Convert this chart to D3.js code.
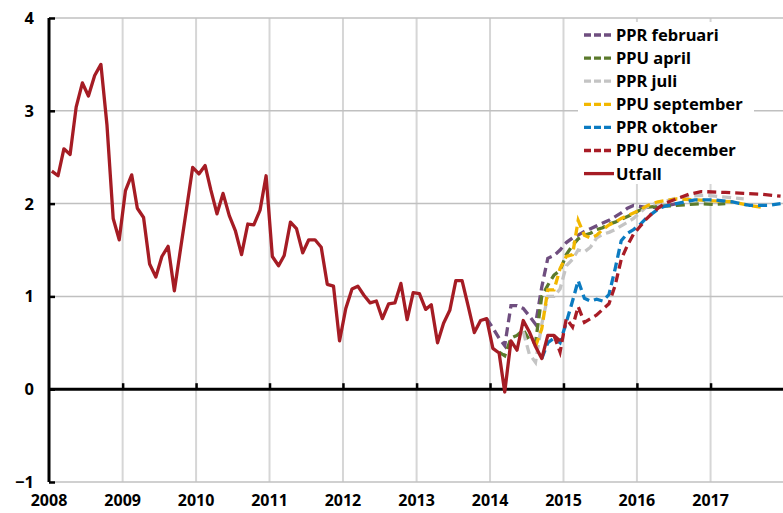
<!DOCTYPE html>
<html>
<head>
<meta charset="utf-8">
<script src="https://cdn.jsdelivr.net/npm/d3@7"></script>
<style>
  body { margin: 0; background: #fff; }
  text { font-family: "Noto Sans", sans-serif; font-weight: bold; fill: #000; }
</style>
</head>
<body>
<div class="contenedor_grafico"></div>
<script>
// months are counted from Jan 2008 (0 = Jan 2008)
const yTicks = [-1, 0, 1, 2, 3, 4];
const yearTicks = [2008, 2009, 2010, 2011, 2012, 2013, 2014, 2015, 2016, 2017];

const utfallValues = [
  2.35, 2.30, 2.59, 2.53, 3.04, 3.30, 3.16, 3.38, 3.50, 2.85, 1.84, 1.61,
  2.14, 2.31, 1.95, 1.85, 1.35, 1.21, 1.43, 1.54, 1.06, 1.50, 1.95, 2.39,
  2.32, 2.41, 2.15, 1.89, 2.11, 1.87, 1.71, 1.45, 1.78, 1.77, 1.93, 2.30,
  1.43, 1.33, 1.44, 1.80, 1.73, 1.47, 1.61, 1.61, 1.53, 1.13, 1.11, 0.52,
  0.87, 1.08, 1.11, 1.01, 0.93, 0.95, 0.76, 0.92, 0.93, 1.14, 0.75, 1.04,
  1.03, 0.86, 0.91, 0.50, 0.71, 0.85, 1.17, 1.17, 0.89, 0.61, 0.74, 0.76,
  0.44, 0.39, -0.03, 0.52, 0.42, 0.74, 0.62, 0.46, 0.33, 0.58, 0.58, 0.52
];

const pprFebruari = [
  [71, 0.76], [72, 0.66], [73, 0.55], [74, 0.47], [75, 0.90], [76, 0.90],
  [77, 0.87], [78, 0.79], [79, 0.70], [80, 1.10], [81, 1.41], [82, 1.44],
  [83, 1.50], [84, 1.58], [85, 1.63], [86, 1.66], [87, 1.70], [88, 1.73],
  [89, 1.76], [90, 1.79], [91, 1.82], [92, 1.86], [93, 1.90], [94, 1.95],
  [95, 1.98], [96, 1.97], [97, 1.96], [99, 1.96], [102, 2.00]
];
const ppuApril = [
  [73, 0.40], [74, 0.36], [75, 0.55], [76, 0.58], [77, 0.64], [78, 0.53],
  [79, 0.50], [80, 1.00], [81, 1.12], [82, 1.23], [83, 1.28], [84, 1.45],
  [85, 1.55], [86, 1.62], [87, 1.66], [88, 1.68], [89, 1.72], [90, 1.74],
  [91, 1.78], [92, 1.80], [93, 1.83], [94, 1.86], [95, 1.89], [96, 1.93],
  [97, 1.96], [99, 1.97], [102, 1.98], [106, 2.00], [108, 1.99], [110, 2.00]
];
const pprJuli = [
  [77, 0.62], [78, 0.38], [79, 0.29], [80, 0.70], [81, 1.00], [82, 1.00],
  [83, 1.08], [84, 1.33], [85, 1.40], [86, 1.50], [87, 1.48], [88, 1.53],
  [89, 1.63], [90, 1.67], [91, 1.69], [92, 1.72], [93, 1.76], [94, 1.80],
  [95, 1.84], [96, 1.90], [97, 1.96], [98, 1.99], [100, 2.02], [102, 2.06],
  [104, 2.08], [107, 2.09], [110, 2.07], [113, 2.05]
];
const ppuSeptember = [
  [79, 0.46], [80, 0.65], [81, 1.07], [82, 1.07], [83, 1.30], [84, 1.43],
  [85, 1.45], [86, 1.82], [87, 1.66], [88, 1.63], [89, 1.66], [90, 1.72],
  [91, 1.77], [92, 1.80], [93, 1.84], [94, 1.87], [95, 1.90], [96, 1.93],
  [97, 1.97], [98, 2.00], [99, 2.02], [102, 2.05], [105, 2.04], [108, 2.03],
  [111, 2.02], [114, 1.98], [116, 1.96]
];
const pprOktober = [
  [80, 0.33], [81, 0.50], [82, 0.55], [83, 0.50], [84, 0.72], [85, 0.95],
  [86, 1.17], [87, 0.98], [88, 0.95], [89, 0.97], [90, 0.95], [91, 1.02],
  [92, 1.30], [93, 1.60], [94, 1.68], [95, 1.72], [96, 1.77], [97, 1.84],
  [98, 1.89], [99, 1.94], [100, 1.97], [102, 2.00], [105, 2.04], [108, 2.04],
  [111, 2.02], [114, 1.98], [117, 1.98], [119, 2.00]
];
const ppuDecember = [
  [82, 0.58], [83, 0.40], [84, 0.76], [85, 0.67], [86, 0.89], [87, 0.72],
  [88, 0.76], [89, 0.80], [90, 0.86], [91, 0.92], [92, 1.12], [93, 1.40],
  [94, 1.55], [95, 1.67], [96, 1.75], [97, 1.83], [98, 1.89], [99, 1.95],
  [100, 2.00], [102, 2.05], [104, 2.10], [106, 2.13], [110, 2.12], [113, 2.11],
  [116, 2.10], [119, 2.08]
];

const seriesNames = ["PPR februari", "PPU april", "PPR juli", "PPU september", "PPR oktober", "PPU december", "Utfall"];
const seriesColors = ["#6f4e7f", "#5b7a2c", "#c4c4c4", "#f2b700", "#0b7bc1", "#a81c26", "#a51c24"];

document.addEventListener("DOMContentLoaded", function () {
  const width = 783;
  const height = 513;
  const left = 49;
  const right = 784;
  const top = 18;
  const bottom = 482;

  const forecasts = [pprFebruari, ppuApril, pprJuli, ppuSeptember, pprOktober, ppuDecember];
  const utfall = utfallValues.map((v, i) => [i, v]);

  const monthDate = (m) => new Date(2008, m, 15);

  const svg = d3
    .select(".contenedor_grafico")
    .append("svg")
    .attr("width", width)
    .attr("height", height);

  const xScale = d3
    .scaleTime()
    .domain([new Date(2008, 0, 1), new Date(2018, 0, 1)])
    .range([left, right]);

  const yScale = d3.scaleLinear().domain([-1, 4]).range([bottom, top]);

  // vertical grid
  svg
    .append("g")
    .selectAll("line")
    .data(yearTicks.slice(1).concat([2018]))
    .enter()
    .append("line")
    .attr("x1", (d) => xScale(new Date(d, 0, 1)))
    .attr("x2", (d) => xScale(new Date(d, 0, 1)))
    .attr("y1", top)
    .attr("y2", bottom)
    .attr("stroke", "#d6d6d6")
    .attr("stroke-width", 2);

  // horizontal grid
  svg
    .append("g")
    .selectAll("line")
    .data(yTicks.filter((d) => d !== 0))
    .enter()
    .append("line")
    .attr("x1", left)
    .attr("x2", right)
    .attr("y1", (d) => yScale(d))
    .attr("y2", (d) => yScale(d))
    .attr("stroke", "#c0c0c0")
    .attr("stroke-width", 1.5);

  // y axis
  const yAxis = svg
    .append("g")
    .attr("transform", `translate(${left}, 0)`)
    .call(d3.axisRight(yScale).tickValues(yTicks).tickSize(6).tickFormat(""));
  yAxis.select(".domain").attr("stroke", "#000").attr("stroke-width", 3).attr("d", `M0,${top}V${bottom}`);
  yAxis.selectAll(".tick line").attr("stroke", "#000").attr("stroke-width", 2.5);

  svg
    .append("g")
    .selectAll("text")
    .data(yTicks)
    .enter()
    .append("text")
    .attr("x", 34)
    .attr("y", (d) => yScale(d))
    .attr("dy", "0.36em")
    .attr("text-anchor", "end")
    .style("font-size", "16.5px")
    .text((d) => (d < 0 ? "\u2212" + Math.abs(d) : d));

  // zero line with year ticks
  const xAxis = svg
    .append("g")
    .attr("transform", `translate(0, ${yScale(0)})`)
    .call(
      d3
        .axisTop(xScale)
        .tickValues(yearTicks.slice(1).map((y) => new Date(y, 0, 1)))
        .tickSize(6)
        .tickFormat("")
    );
  xAxis.select(".domain").attr("stroke", "#000").attr("stroke-width", 3).attr("d", `M${left},0H${right}`);
  xAxis.selectAll(".tick line").attr("stroke", "#000").attr("stroke-width", 2.5);

  svg
    .append("g")
    .selectAll("text")
    .data(yearTicks)
    .enter()
    .append("text")
    .attr("x", (d) => xScale(new Date(d, 0, 1)))
    .attr("y", 500)
    .attr("dy", "0.36em")
    .attr("text-anchor", "middle")
    .style("font-size", "16px")
    .text((d) => d);

  const line = d3
    .line()
    .x((d) => xScale(monthDate(d[0])))
    .y((d) => yScale(d[1]));

  forecasts.forEach((s, i) => {
    svg
      .append("path")
      .datum(s)
      .attr("d", line)
      .attr("fill", "none")
      .attr("stroke", seriesColors[i])
      .attr("stroke-width", 3.3)
      .attr("stroke-dasharray", "9,5");
  });

  svg
    .append("path")
    .datum(utfall)
    .attr("d", line)
    .attr("fill", "none")
    .attr("stroke", seriesColors[6])
    .attr("stroke-width", 3.3)
    .attr("stroke-linejoin", "round");

  // legend
  const legend = svg.append("g");
  legend
    .append("rect")
    .attr("x", 578)
    .attr("y", 22)
    .attr("width", 176)
    .attr("height", 162)
    .attr("fill", "#fff");

  const rows = legend
    .selectAll("g.row")
    .data(seriesNames)
    .enter()
    .append("g")
    .attr("class", "row")
    .attr("transform", (d, i) => `translate(584, ${35 + i * 23.1})`);

  rows
    .append("line")
    .attr("x1", 0)
    .attr("x2", 30)
    .attr("stroke", (d, i) => seriesColors[i])
    .attr("stroke-width", 3.3)
    .attr("stroke-dasharray", (d, i) => (i < 6 ? "7,3" : null));

  rows
    .append("text")
    .attr("x", 32)
    .attr("dy", "0.36em")
    .style("font-size", "16.5px")
    .text((d) => d);
});
</script>
</body>
</html>
